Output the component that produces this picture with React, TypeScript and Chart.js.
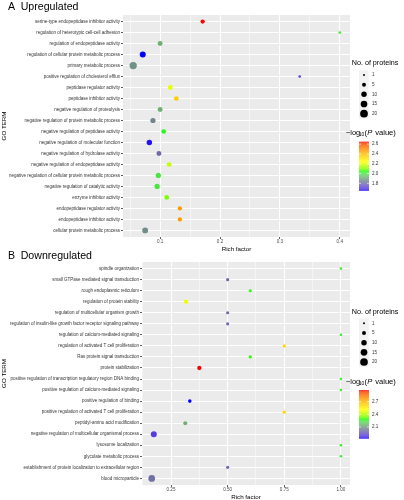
import React, { useEffect, useRef } from "react";
import { Chart, registerables } from "chart.js";

Chart.register(...registerables);

const FONT = "'Liberation Sans', Arial, Helvetica, sans-serif";

// ---------- Panel A: Upregulated ----------
const upTerms = [
  "serine-type endopeptidase inhibitor activity",
  "regulation of heterotypic cell-cell adhesion",
  "regulation of endopeptidase activity",
  "regulation of cellular protein metabolic process",
  "primary metabolic process",
  "positive regulation of cholesterol efflux",
  "peptidase regulator activity",
  "peptidase inhibitor activity",
  "negative regulation of proteolysis",
  "negative regulation of protein metabolic process",
  "negative regulation of peptidase activity",
  "negative regulation of molecular function",
  "negative regulation of hydrolase activity",
  "negative regulation of endopeptidase activity",
  "negative regulation of cellular protein metabolic process",
  "negative regulation of catalytic activity",
  "enzyme inhibitor activity",
  "endopeptidase regulator activity",
  "endopeptidase inhibitor activity",
  "cellular protein metabolic process",
];
const upRich = [0.171, 0.4, 0.1, 0.071, 0.055, 0.333, 0.117, 0.127, 0.1, 0.088, 0.106, 0.082, 0.098, 0.115, 0.097, 0.095, 0.111, 0.133, 0.133, 0.075];
const upCount = [6, 2, 8, 12, 18, 2, 8, 7, 8, 9, 7, 10, 8, 7, 9, 9, 7, 6, 6, 11];
const upLogP = [2.65, 2.02, 1.93, 1.65, 1.88, 1.72, 2.22, 2.36, 1.93, 1.86, 2.04, 1.66, 1.8, 2.17, 2.01, 2.01, 2.1, 2.47, 2.47, 1.87];
const upXTicks = [0.1, 0.2, 0.3, 0.4];
const upXTickLabels = ["0.1", "0.2", "0.3", "0.4"];
const upColorTicks = [1.8, 2.0, 2.2, 2.4, 2.6];
const upColorTickLabels = ["1.8", "2.0", "2.2", "2.4", "2.6"];

// ---------- Panel B: Downregulated ----------
const downTerms = [
  "spindle organization",
  "small GTPase mediated signal transduction",
  "rough endoplasmic reticulum",
  "regulation of protein stability",
  "regulation of multicellular organism growth",
  "regulation of insulin-like growth factor receptor signaling pathway",
  "regulation of calcium-mediated signaling",
  "regulation of activated T cell proliferation",
  "Ras protein signal transduction",
  "protein stabilization",
  "positive regulation of transcription regulatory region DNA binding",
  "positive regulation of calcium-mediated signaling",
  "positive regulation of binding",
  "positive regulation of activated T cell proliferation",
  "peptidyl-amino acid modification",
  "negative regulation of multicellular organismal process",
  "lysosome localization",
  "glycolate metabolic process",
  "establishment of protein localization to extracellular region",
  "blood microparticle",
];
const downRich = [1.0, 0.5, 0.6, 0.316, 0.5, 0.5, 1.0, 0.75, 0.6, 0.375, 1.0, 1.0, 0.333, 0.75, 0.313, 0.174, 1.0, 1.0, 0.5, 0.165];
const downCount = [2, 3, 3, 6, 3, 3, 2, 3, 3, 6, 2, 2, 4, 3, 5, 12, 2, 2, 3, 15];
const downLogP = [2.26, 2.0, 2.3, 2.5, 2.0, 2.0, 2.26, 2.62, 2.3, 2.98, 2.26, 2.26, 1.83, 2.62, 2.15, 1.9, 2.26, 2.26, 2.0, 2.02];
const downXTicks = [0.25, 0.5, 0.75, 1.0];
const downXTickLabels = ["0.25", "0.50", "0.75", "1.00"];
const downColorTicks = [2.1, 2.4, 2.7];
const downColorTickLabels = ["2.1", "2.4", "2.7"];

// ---------- shared legend ----------
const sizeBreaks = [1, 5, 10, 15, 20];
const sizeBreakLabels = ["1", "5", "10", "15", "20"];
const paletteStops = ["#0000FF", "#708090", "#00FF00", "#FFFF00", "#FFA500", "#FF0000"];

// ---------- colour helpers (Lab interpolation like ggplot) ----------
function hexToRgb(h: string) {
  const n = parseInt(h.slice(1), 16);
  return [(n >> 16) & 255, (n >> 8) & 255, n & 255];
}
function lin(c: number) {
  c /= 255;
  return c <= 0.04045 ? c / 12.92 : Math.pow((c + 0.055) / 1.055, 2.4);
}
function rgbToLab(rgb: number[]) {
  const R = lin(rgb[0]), G = lin(rgb[1]), B = lin(rgb[2]);
  const X = (0.4124 * R + 0.3576 * G + 0.1805 * B) / 0.95047;
  const Y = 0.2126 * R + 0.7152 * G + 0.0722 * B;
  const Z = (0.0193 * R + 0.1192 * G + 0.9505 * B) / 1.08883;
  const f = (t: number) => (t > 0.008856 ? Math.cbrt(t) : 7.787 * t + 16 / 116);
  return [116 * f(Y) - 16, 500 * (f(X) - f(Y)), 200 * (f(Y) - f(Z))];
}
function labToRgb(lab: number[]) {
  const fy = (lab[0] + 16) / 116;
  const fx = fy + lab[1] / 500;
  const fz = fy - lab[2] / 200;
  const finv = (t: number) => (t * t * t > 0.008856 ? t * t * t : (t - 16 / 116) / 7.787);
  const X = 0.95047 * finv(fx), Y = finv(fy), Z = 1.08883 * finv(fz);
  const r = 3.2406 * X - 1.5372 * Y - 0.4986 * Z;
  const g = -0.9689 * X + 1.8758 * Y + 0.0415 * Z;
  const b = 0.0557 * X - 0.204 * Y + 1.057 * Z;
  const gam = (c: number) => {
    const v = c <= 0.0031308 ? 12.92 * c : 1.055 * Math.pow(c, 1 / 2.4) - 0.055;
    return Math.round(Math.max(0, Math.min(1, v)) * 255);
  };
  return `rgb(${gam(r)},${gam(g)},${gam(b)})`;
}
const paletteLab = paletteStops.map((h) => rgbToLab(hexToRgb(h)));
function colorAt(t: number) {
  t = Math.max(0, Math.min(1, t));
  const seg = paletteLab.length - 1;
  const p = t * seg;
  const i = Math.min(seg - 1, Math.floor(p));
  const f = p - i;
  const a = paletteLab[i], b = paletteLab[i + 1];
  return labToRgb([a[0] + (b[0] - a[0]) * f, a[1] + (b[1] - a[1]) * f, a[2] + (b[2] - a[2]) * f]);
}
function radiusFor(n: number) {
  const rMin = 1, rMax = 3.85;
  return Math.sqrt(rMin * rMin + ((rMax * rMax - rMin * rMin) * (n - 1)) / (20 - 1));
}

type PanelCfg = {
  tag: string;
  title: string;
  terms: string[];
  rich: number[];
  count: number[];
  logp: number[];
  xMin: number;
  xMax: number;
  xTicks: number[];
  xTickLabels: string[];
  colorTicks: number[];
  colorTickLabels: string[];
  canvasH: number;
  top: number;
  padTop: number;
  xAxisH: number;
  yAxisW: number;
  titleY: number;
  xTitleY: number;
  sizeTitleY: number;
  sizeKey0: number;
  colorTitleY: number;
  barTop: number;
  barBottom: number;
};

function Panel({ cfg }: { cfg: PanelCfg }) {
  const ref = useRef<HTMLCanvasElement>(null);
  useEffect(() => {
    const canvas = ref.current;
    if (!canvas) return;
    const cMin = Math.min(...cfg.logp);
    const cMax = Math.max(...cfg.logp);
    const colors = cfg.logp.map((v) => colorAt((v - cMin) / (cMax - cMin)));
    const radii = cfg.count.map(radiusFor);
    const points = cfg.terms.map((_, i) => ({ x: cfg.rich[i], y: i }));

    const step = cfg.xTicks[1] - cfg.xTicks[0];
    const minor: number[] = [];
    const cand = [cfg.xTicks[0] - step / 2, ...cfg.xTicks.map((v) => v + step / 2)];
    cand.forEach((v) => {
      if (v >= cfg.xMin && v <= cfg.xMax) minor.push(v);
    });
    const allX = [...cfg.xTicks, ...minor].sort((a, b) => a - b);
    const isMajor = (v: number) => cfg.xTicks.some((m) => Math.abs(m - v) < 1e-9);
    const majorLabel = (v: number) => {
      const i = cfg.xTicks.findIndex((m) => Math.abs(m - v) < 1e-9);
      return i >= 0 ? cfg.xTickLabels[i] : "";
    };

    const panelPlugin = {
      id: "panelDeco",
      beforeDraw(chart: any) {
        const a = chart.chartArea;
        const ctx = chart.ctx;
        ctx.save();
        ctx.fillStyle = "#EBEBEB";
        ctx.fillRect(a.left, a.top, a.right - a.left, a.bottom - a.top);
        ctx.restore();
      },
      afterDraw(chart: any) {
        const a = chart.chartArea;
        const ctx = chart.ctx as CanvasRenderingContext2D;
        ctx.save();
        ctx.fillStyle = "#000";
        ctx.textBaseline = "middle";
        ctx.textAlign = "left";
        ctx.font = `10.6px ${FONT}`;
        ctx.fillText(cfg.tag, 8, cfg.titleY);
        ctx.fillText(cfg.title, 20.7, cfg.titleY);

        // axis titles
        ctx.font = `6.2px ${FONT}`;
        ctx.textAlign = "center";
        ctx.fillText("Rich factor", (a.left + a.right) / 2, cfg.xTitleY);
        ctx.save();
        ctx.translate(4.3, (a.top + a.bottom) / 2);
        ctx.rotate(-Math.PI / 2);
        ctx.fillText("GO TERM", 0, 0);
        ctx.restore();

        // size legend
        ctx.textAlign = "left";
        ctx.font = `7.2px ${FONT}`;
        ctx.fillText("No. of proteins", 351.7, cfg.sizeTitleY);
        const keyH = 9.67;
        sizeBreaks.forEach((n, i) => {
          const cy = cfg.sizeKey0 + i * keyH;
          ctx.fillStyle = "#F2F2F2";
          ctx.fillRect(359, cy - keyH / 2, keyH, keyH);
          ctx.fillStyle = "#000";
          ctx.beginPath();
          ctx.arc(364, cy, radiusFor(n), 0, Math.PI * 2);
          ctx.fill();
          ctx.fillStyle = "#333";
          ctx.font = `4.6px ${FONT}`;
          ctx.fillText(sizeBreakLabels[i], 372, cy);
        });

        // colour legend title: −log10 (P value)
        ctx.fillStyle = "#000";
        ctx.font = `7.4px ${FONT}`;
        ctx.fillText("\u2212log", 346, cfg.colorTitleY);
        ctx.font = `5px ${FONT}`;
        ctx.fillText("10", 358.8, cfg.colorTitleY + 1.8);
        ctx.font = `7.6px ${FONT}`;
        let x = 364.6;
        ctx.fillText("(", x, cfg.colorTitleY);
        x += ctx.measureText("(").width;
        ctx.font = `italic 7.6px ${FONT}`;
        ctx.fillText("P", x, cfg.colorTitleY);
        x += ctx.measureText("P").width + 3;
        ctx.font = `7.6px ${FONT}`;
        ctx.fillText("value)", x, cfg.colorTitleY);

        // colour bar
        const bx = 359, bw = 10;
        const bt = cfg.barTop, bb = cfg.barBottom;
        for (let y = bt; y < bb; y += 0.5) {
          const t = 1 - (y - bt) / (bb - bt);
          ctx.fillStyle = colorAt(t);
          ctx.fillRect(bx, y, bw, 0.6);
        }
        const yFor = (v: number) => bt + ((cMax - v) / (cMax - cMin)) * (bb - bt);
        ctx.font = `4.6px ${FONT}`;
        cfg.colorTicks.forEach((v, i) => {
          const y = yFor(v);
          ctx.strokeStyle = "#FFFFFF";
          ctx.lineWidth = 0.6;
          ctx.beginPath();
          ctx.moveTo(bx, y);
          ctx.lineTo(bx + 2, y);
          ctx.moveTo(bx + bw - 2, y);
          ctx.lineTo(bx + bw, y);
          ctx.stroke();
          ctx.fillStyle = "#333";
          ctx.fillText(cfg.colorTickLabels[i], 372, y);
        });
        ctx.restore();
      },
    };

    const chart = new Chart(canvas, {
      type: "scatter",
      data: {
        datasets: [
          {
            data: points,
            pointRadius: radii,
            pointHoverRadius: radii,
            pointBackgroundColor: colors,
            pointBorderColor: colors,
            pointBorderWidth: 0,
            pointHoverBorderWidth: 0,
          } as any,
        ],
      },
      options: {
        animation: false,
        responsive: false,
        devicePixelRatio: 1,
        events: [],
        layout: { padding: { top: cfg.padTop, right: 54, left: 0, bottom: 0 } },
        plugins: { legend: { display: false }, tooltip: { enabled: false } },
        scales: {
          x: {
            type: "linear",
            min: cfg.xMin,
            max: cfg.xMax,
            afterBuildTicks: (s: any) => {
              s.ticks = allX.map((v) => ({ value: v }));
            },
            afterFit: (s: any) => {
              s.height = cfg.xAxisH;
            },
            ticks: {
              autoSkip: false,
              maxRotation: 0,
              padding: 0,
              color: "#4D4D4D",
              font: { size: 4.6, family: FONT },
              callback: (v: any) => majorLabel(Number(v)),
            },
            grid: {
              color: "#FFFFFF",
              lineWidth: (c: any) => (c.tick && isMajor(c.tick.value) ? 1 : 0.5),
              tickLength: 2,
              tickWidth: 0.8,
              tickColor: (c: any) => (c.tick && isMajor(c.tick.value) ? "#333333" : "rgba(0,0,0,0)"),
            },
            border: { display: false },
          },
          y: {
            type: "linear",
            min: -0.6,
            max: cfg.terms.length - 1 + 0.6,
            reverse: true,
            afterBuildTicks: (s: any) => {
              s.ticks = cfg.terms.map((_, i) => ({ value: i }));
            },
            afterFit: (s: any) => {
              s.width = cfg.yAxisW;
            },
            ticks: {
              autoSkip: false,
              padding: 1,
              color: "#333333",
              font: { size: 4.5, family: FONT },
              callback: (v: any) => cfg.terms[Math.round(Number(v))] ?? "",
            },
            grid: {
              color: "#FFFFFF",
              lineWidth: 1,
              tickLength: 2,
              tickWidth: 0.8,
              tickColor: "#333333",
            },
            border: { display: false },
          },
        },
      } as any,
      plugins: [panelPlugin],
    });
    return () => chart.destroy();
  }, [cfg]);

  return (
    <canvas
      ref={ref}
      width={404}
      height={cfg.canvasH}
      style={{ position: "absolute", left: 0, top: cfg.top, width: 404, height: cfg.canvasH }}
    />
  );
}

const panelA: PanelCfg = {
  tag: "A",
  title: "Upregulated",
  terms: upTerms,
  rich: upRich,
  count: upCount,
  logp: upLogP,
  xMin: 0.038,
  xMax: 0.417,
  xTicks: upXTicks,
  xTickLabels: upXTickLabels,
  colorTicks: upColorTicks,
  colorTickLabels: upColorTickLabels,
  canvasH: 253,
  top: 0,
  padTop: 15,
  xAxisH: 16,
  yAxisW: 123,
  titleY: 7.5,
  xTitleY: 249.3,
  sizeTitleY: 63,
  sizeKey0: 75,
  colorTitleY: 133,
  barTop: 141.7,
  barBottom: 190.7,
};

const panelB: PanelCfg = {
  tag: "B",
  title: "Downregulated",
  terms: downTerms,
  rich: downRich,
  count: downCount,
  logp: downLogP,
  xMin: 0.122,
  xMax: 1.04,
  xTicks: downXTicks,
  xTickLabels: downXTickLabels,
  colorTicks: downColorTicks,
  colorTickLabels: downColorTickLabels,
  canvasH: 255,
  top: 245,
  padTop: 17,
  xAxisH: 15,
  yAxisW: 142,
  titleY: 11,
  xTitleY: 252,
  sizeTitleY: 66.7,
  sizeKey0: 78.3,
  colorTitleY: 137.3,
  barTop: 145,
  barBottom: 193.3,
};

export default function App() {
  return (
    <div style={{ position: "fixed", left: 0, top: 0, width: 404, height: 500, background: "#FFFFFF", overflow: "hidden" }}>
      <Panel cfg={panelA} />
      <Panel cfg={panelB} />
    </div>
  );
}
